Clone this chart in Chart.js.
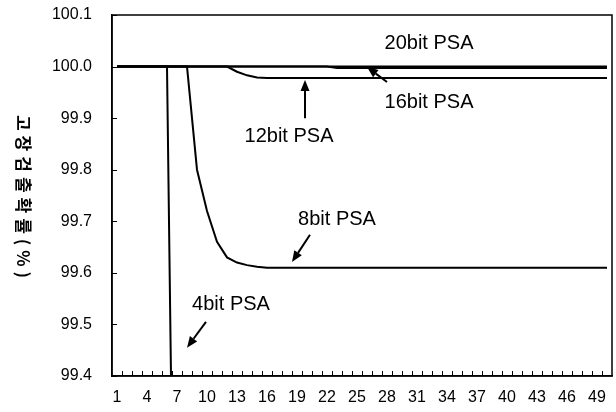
<!DOCTYPE html>
<html>
<head>
<meta charset="utf-8">
<script src="https://cdn.jsdelivr.net/npm/chart.js@4.4.1/dist/chart.umd.min.js"></script>
<style>
  html, body { margin: 0; padding: 0; background: #fff; }
  #wrap { width: 616px; height: 412px; position: relative; }
</style>
</head>
<body>
<div id="wrap"><canvas id="c" width="616" height="412"></canvas></div>
<script>
// ---- data ----
const categories = Array.from({length: 50}, (_, i) => String(i + 1));
const yAxisTitle = '고장검출확률(%)';
const yTicks = [99.4, 99.5, 99.6, 99.7, 99.8, 99.9, 100.0, 100.1];

const psa20 = [100,100,100,100,100,100,100,100,100,100,100,100,100,100,100,100,100,100,100,100,
               100,100,100,100,100,100,100,100,100,100,100,100,100,100,100,100,100,100,100,100,
               100,100,100,100,100,100,100,100,100,100];
const psa16 = [100,100,100,100,100,100,100,100,100,100,100,100,100,100,100,100,100,100,100,100,
               100,100,99.997,99.997,99.997,99.997,99.997,99.997,99.997,99.997,99.997,99.997,99.997,99.997,99.997,99.997,99.997,99.997,99.997,99.997,
               99.997,99.997,99.997,99.997,99.997,99.997,99.997,99.997,99.997,99.997];
const psa12 = [100,100,100,100,100,100,100,100,100,100,100,100,99.99,99.983,99.979,99.978,99.978,99.978,99.978,99.978,
               99.978,99.978,99.978,99.978,99.978,99.978,99.978,99.978,99.978,99.978,99.978,99.978,99.978,99.978,99.978,99.978,99.978,99.978,99.978,99.978,
               99.978,99.978,99.978,99.978,99.978,99.978,99.978,99.978,99.978,99.978];
const psa8  = [100,100,100,100,100,100,100,100,99.80,99.72,99.66,99.63,99.62,99.615,99.612,99.61,99.61,99.61,99.61,99.61,
               99.61,99.61,99.61,99.61,99.61,99.61,99.61,99.61,99.61,99.61,99.61,99.61,99.61,99.61,99.61,99.61,99.61,99.61,99.61,99.61,
               99.61,99.61,99.61,99.61,99.61,99.61,99.61,99.61,99.61,99.61];
const psa4  = [100,100,100,100,100,100,98.5,null,null,null,null,null,null,null,null,null,null,null,null,null,
               null,null,null,null,null,null,null,null,null,null,null,null,null,null,null,null,null,null,null,null,
               null,null,null,null,null,null,null,null,null,null];

// annotation labels (category number, value)
const labelTexts = ['20bit PSA', '16bit PSA', '12bit PSA', '8bit PSA', '4bit PSA'];
const labelX = [32.2, 32.2, 18.2, 23.0, 12.4];
const labelY = [100.044, 99.931, 99.864, 99.703, 99.538];
// arrows: tail -> tip
const arrowX1 = [28.0, 19.8, 20.3, 9.9];
const arrowY1 = [99.970, 99.900, 99.674, 99.505];
const arrowX2 = [26.0, 19.8, 18.5, 8.0];
const arrowY2 = [99.999, 99.974, 99.621, 99.455];

const FONT = '"Liberation Sans", Arial, sans-serif';

function mkDs(label, data) {
  return { label, data, borderColor: '#000', borderWidth: 2, pointRadius: 0, tension: 0, fill: false, spanGaps: false };
}

const decor = {
  id: 'decor',
  afterDraw(chart) {
    const ctx = chart.ctx;
    const xs = chart.scales.x, ys = chart.scales.y;
    const ca = chart.chartArea;
    const px = v => xs.getPixelForValue(v - 1);
    ctx.save();
    // frame
    ctx.strokeStyle = '#000';
    ctx.lineWidth = 1.5;
    ctx.strokeRect(ca.left, ca.top, ca.right - ca.left, ca.bottom - ca.top);
    // inward x ticks at category boundaries
    ctx.lineWidth = 1;
    const n = categories.length;
    ctx.beginPath();
    for (let k = 1; k < n; k++) {
      const x = Math.round((px(k) + px(k + 1)) / 2) + 0.5;
      ctx.moveTo(x, ca.bottom);
      ctx.lineTo(x, ca.bottom - 5);
    }
    ctx.stroke();
    // inward y ticks
    ctx.beginPath();
    yTicks.forEach(t => {
      const y = Math.round(ys.getPixelForValue(t)) + 0.5;
      ctx.moveTo(ca.left, y);
      ctx.lineTo(ca.left + 5, y);
    });
    ctx.stroke();
    // labels
    ctx.fillStyle = '#000';
    ctx.font = '20px ' + FONT;
    ctx.textAlign = 'center';
    ctx.textBaseline = 'middle';
    labelTexts.forEach((t, i) => ctx.fillText(t, px(labelX[i]), ys.getPixelForValue(labelY[i])));
    // arrows
    ctx.lineWidth = 2;
    for (let i = 0; i < arrowX1.length; i++) {
      const x1 = px(arrowX1[i]), y1 = ys.getPixelForValue(arrowY1[i]);
      const x2 = px(arrowX2[i]), y2 = ys.getPixelForValue(arrowY2[i]);
      const ang = Math.atan2(y2 - y1, x2 - x1);
      const L = 11, W = 4.5;
      const bx = x2 - L * Math.cos(ang), by = y2 - L * Math.sin(ang);
      ctx.beginPath();
      ctx.moveTo(x1, y1);
      ctx.lineTo(bx, by);
      ctx.stroke();
      ctx.beginPath();
      ctx.moveTo(x2, y2);
      ctx.lineTo(bx + W * Math.sin(ang), by - W * Math.cos(ang));
      ctx.lineTo(bx - W * Math.sin(ang), by + W * Math.cos(ang));
      ctx.closePath();
      ctx.fill();
    }
    // y-axis title, rotated clockwise (reads top to bottom)
    ctx.save();
    ctx.translate(23, 199);
    ctx.rotate(Math.PI / 2);
    ctx.font = 'bold 17px "Noto Sans CJK KR", ' + FONT;
    if ('letterSpacing' in ctx) ctx.letterSpacing = '5px';
    ctx.textAlign = 'center';
    ctx.textBaseline = 'middle';
    ctx.fillText(yAxisTitle, 0, 0);
    ctx.restore();
    ctx.restore();
  }
};

new Chart(document.getElementById('c'), {
  type: 'line',
  data: {
    labels: categories,
    datasets: [mkDs('20bit PSA', psa20), mkDs('16bit PSA', psa16), mkDs('12bit PSA', psa12), mkDs('8bit PSA', psa8), mkDs('4bit PSA', psa4)]
  },
  options: {
    responsive: false,
    animation: false,
    devicePixelRatio: 1,
    layout: { padding: { top: 15, right: 4, left: 0, bottom: 0 } },
    plugins: { legend: { display: false }, tooltip: { enabled: false } },
    scales: {
      x: {
        type: 'category',
        offset: true,
        grid: { display: false, drawTicks: false },
        border: { display: true, color: '#000', width: 1.5 },
        ticks: {
          autoSkip: false, maxRotation: 0, minRotation: 0, padding: 12,
          color: '#000', font: { family: FONT, size: 16 },
          callback: (v, i) => (i % 3 === 0 ? categories[i] : '')
        },
        afterFit: s => { s.height = 36; s.paddingLeft = 0; s.paddingRight = 0; }
      },
      y: {
        min: 99.4, max: 100.1,
        grid: { display: false, drawTicks: false },
        border: { display: true, color: '#000', width: 1.5 },
        afterBuildTicks: s => { s.ticks = yTicks.map(v => ({ value: v })); },
        ticks: {
          padding: 20, color: '#000', font: { family: FONT, size: 16 },
          callback: v => Number(v).toFixed(1)
        },
        afterFit: s => { s.width = 112; s.paddingTop = 0; s.paddingBottom = 0; }
      }
    }
  },
  plugins: [decor]
});
</script>
</body>
</html>
